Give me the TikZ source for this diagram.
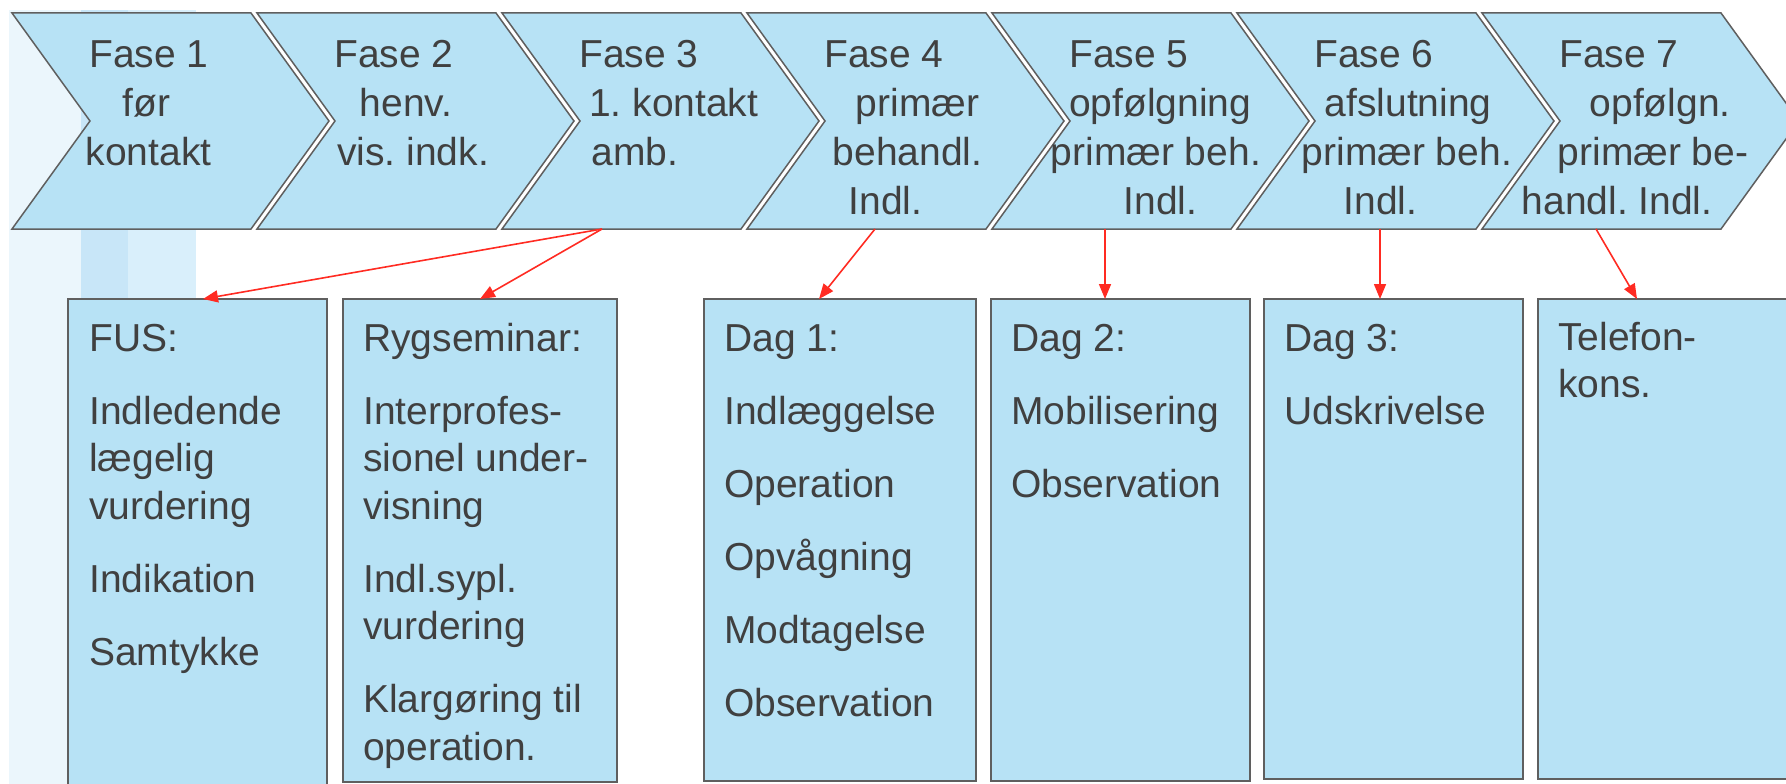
\documentclass[tikz,border=0pt]{standalone}
\usepackage{fontspec}
\setmainfont{Liberation Sans}
\usetikzlibrary{arrows.meta,calc}
\frenchspacing

\definecolor{chevfill}{HTML}{B7E2F5}
\definecolor{edgegray}{HTML}{5F5F5F}
\definecolor{inkgray}{HTML}{404040}
\definecolor{linkred}{HTML}{FF2B22}
\definecolor{paleA}{HTML}{EBF6FC}
\definecolor{paleB}{HTML}{C8E6F8}
\definecolor{paleC}{HTML}{D9EFFB}

% multi-line text block whose anchor is the baseline of its first line
\newcommand{\chevlines}[1]{\parbox[t]{320pt}{\baselineskip=49pt #1}}
\newcommand{\boxlines}[1]{\parbox[t]{300pt}{\baselineskip=47.5pt #1}}

\tikzset{
  phase/.style={fill=chevfill, draw=edgegray, line width=1.5pt, line join=miter},
  infobox/.style={rectangle, fill=chevfill, draw=edgegray, line width=1.8pt,
                  inner sep=0pt, outer sep=0pt, anchor=north west},
  chevtext/.style={inner sep=0pt, anchor=base west, text=inkgray,
                   font=\fontsize{39}{49}\selectfont},
  boxtext/.style={inner sep=0pt, anchor=base west, text=inkgray,
                  font=\fontsize{39}{47.5}\selectfont},
  link/.style={draw=linkred, line width=1.6pt,
               -{Triangle[length=15pt,width=12pt]}}
}

\begin{document}
\begin{tikzpicture}[x=1pt,y=-1pt]
\useasboundingbox (0,0) rectangle (1786,784);
\begin{scope}
\clip (0,0) rectangle (1786,784);

% pale backdrop strips on the left
\fill[paleA] (9,10) rectangle (196,790);
\fill[paleB] (81,10) rectangle (128,790);
\fill[paleC] (128,10) rectangle (196,790);

% the seven phase chevrons
\foreach \k in {0,...,6}{
  \pgfmathsetmacro{\xa}{12+245*\k}
  \draw[phase] (\xa,13) -- ++(239,0) -- ++(78,108) -- ++(-78,108)
               -- ++(-239,0) -- ++(78,-108) -- cycle;
}

% phase labels
\node[chevtext] (t1) at (85.5,67)
  {\chevlines{\hspace*{3.5pt}Fase 1\\\hspace*{37pt}før\\kontakt}};
\node[chevtext] (t2) at (334,67)
  {\chevlines{Fase 2\\\hspace*{25.5pt}henv.\\\hspace*{3pt}vis. indk.}};
\node[chevtext] (t3) at (579,67)
  {\chevlines{Fase 3\\\hspace*{10pt}1. kontakt\\\hspace*{12.6pt}amb.}};
\node[chevtext] (t4) at (824,67)
  {\chevlines{Fase 4\\\hspace*{31.5pt}primær\\\hspace*{8.5pt}behandl.\\\hspace*{24.4pt}Indl.}};
\node[chevtext] (t5) at (1050.5,67)
  {\chevlines{\hspace*{18.5pt}Fase 5\\\hspace*{18.3pt}opfølgning\\primær beh.\\\hspace*{73pt}Indl.}};
\node[chevtext] (t6) at (1301.5,67)
  {\chevlines{\hspace*{12.5pt}Fase 6\\\hspace*{23pt}afslutning\\primær beh.\\\hspace*{42pt}Indl.}};
\node[chevtext] (t7) at (1521.5,67)
  {\chevlines{\hspace*{37.5pt}Fase 7\\\hspace*{68pt}opfølgn.\\\hspace*{36pt}primær be-\\handl. Indl.}};

% exit points on the lower edge of the chevrons
\coordinate (out3) at (602,229);
\coordinate (out4) at (875,229);
\coordinate (out5) at (1105,229);
\coordinate (out6) at (1380,229);
\coordinate (out7) at (1596,229);

% detail boxes
\node[infobox, minimum width=259pt, minimum height=491pt] (b1) at (68,299) {};
\node[infobox, minimum width=274pt, minimum height=483pt] (b2) at (343,299) {};
\node[infobox, minimum width=272pt, minimum height=482pt] (b4) at (704,299) {};
\node[infobox, minimum width=259pt, minimum height=482pt] (b5) at (991,299) {};
\node[infobox, minimum width=259pt, minimum height=480pt] (b6) at (1264,299) {};
\node[infobox, minimum width=270pt, minimum height=480pt] (b7) at (1538,299) {};

% box contents
\node[boxtext] (b1t) at ($(b1.north west)+(21,52)$)
  {\boxlines{FUS:\\[25.5pt]Indledende\\lægelig\\vurdering\\[25.5pt]Indikation\\[25.5pt]Samtykke}};
\node[boxtext] (b2t) at ($(b2.north west)+(20,52)$)
  {\boxlines{Rygseminar:\\[25.5pt]Interprofes-\\sionel under-\\visning\\[25.5pt]Indl.sypl.\\vurdering\\[25.5pt]Klargøring til\\operation.}};
\node[boxtext] (b4t) at ($(b4.north west)+(20,52)$)
  {\boxlines{Dag 1:\\[25.5pt]Indlæggelse\\[25.5pt]Operation\\[25.5pt]Opvågning\\[25.5pt]Modtagelse\\[25.5pt]Observation}};
\node[boxtext] (b5t) at ($(b5.north west)+(20,52)$)
  {\boxlines{Dag 2:\\[25.5pt]Mobilisering\\[25.5pt]Observation}};
\node[boxtext] (b6t) at ($(b6.north west)+(20,52)$)
  {\boxlines{Dag 3:\\[25.5pt]Udskrivelse}};
\node[boxtext] (b7t) at ($(b7.north west)+(20,51)$)
  {\boxlines{Telefon-\\kons.}};

% entry points on the top edge of the boxes
\coordinate (in1) at ($(b1.north west)+(135,0)$);
\coordinate (in2) at ($(b2.north west)+(137,0)$);
\coordinate (in4) at ($(b4.north west)+(115,0)$);
\coordinate (in5) at ($(b5.north west)+(114,0)$);
\coordinate (in6) at ($(b6.north west)+(116,0)$);
\coordinate (in7) at ($(b7.north west)+(99,0)$);

% connectors
\draw[link] (out3) -- (in1);
\draw[link] (out3) -- (in2);
\draw[link] (out4) -- (in4);
\draw[link] (out5) -- (in5);
\draw[link] (out6) -- (in6);
\draw[link] (out7) -- (in7);
\end{scope}
\end{tikzpicture}
\end{document}
